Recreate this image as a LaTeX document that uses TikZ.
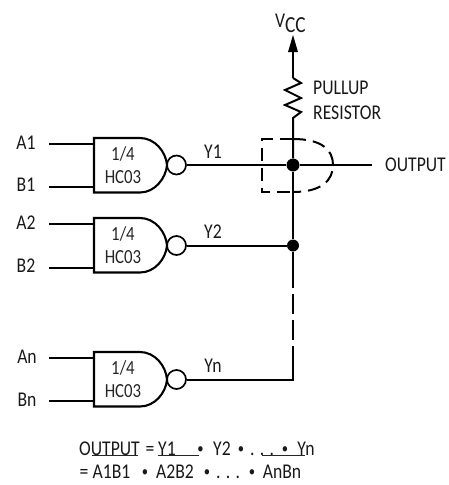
\documentclass[tikz,border=0pt]{standalone}
\usepackage{fontspec}
\setmainfont[FakeStretch=0.84]{Carlito}
\tikzset{
  wire/.style={line width=2pt,line cap=butt},
  gatebody/.style={line width=2.1pt,line join=miter},
  bubble/.style={circle,draw,line width=1.7pt,minimum size=19pt,inner sep=0pt},
  lab/.style={font=\fontsize{21}{23}\selectfont,inner sep=0pt,text=black!90},
  gatelab/.style={font=\fontsize{20}{23}\selectfont,inner sep=0pt,align=center,text=black!85},
  dot/.style={circle,fill=black,inner sep=0pt},
  dashbox/.style={line width=2pt,dash pattern=on 13pt off 7pt},
  blt/.style={font=\fontsize{15}{15}\selectfont,inner sep=0pt,text=black!90},
}
\begin{document}
\begin{tikzpicture}[x=1pt,y=-1pt]
\useasboundingbox (0,0) rectangle (448,485);
\foreach \n/\t/\c in {1/138/165,2/218/245.5,3/352/379.5}{
  \draw[gatebody] (94,\t) -- (140,\t) .. controls (155,\t) and (166,{\t+14}) .. (167,\c)
     .. controls (166,{\c+13}) and (155,{\t+54.5}) .. (140,{\t+54.5}) -- (94,{\t+54.5}) -- cycle;
  \node[bubble] (b\n) at (176.5,\c) {};
}
\node[gatelab] (g1) at (123,165.5) {1/4\\HC03};
\node[gatelab] (g2) at (123,245.5) {1/4\\HC03};
\node[gatelab] (g3) at (123,379.5) {1/4\\HC03};
\coordinate (a1) at (94,144); \coordinate (c1) at (94,187);
\coordinate (a2) at (94,224); \coordinate (c2) at (94,268);
\coordinate (a3) at (94,358); \coordinate (c3) at (94,401);
\coordinate (ia1) at (49,144); \coordinate (ic1) at (49,187);
\coordinate (ia2) at (49,224); \coordinate (ic2) at (49,268);
\coordinate (ia3) at (49,358); \coordinate (ic3) at (49,401);
\node[lab] (A1) at (26,143) {A1};
\node[lab] (B1) at (26,185) {B1};
\node[lab] (A2) at (26,223) {A2};
\node[lab] (B2) at (26,266) {B2};
\node[lab] (An) at (27,357) {An};
\node[lab] (Bn) at (27,400) {Bn};
\draw[wire] (ia1) -- (a1);
\draw[wire] (ic1) -- (c1);
\draw[wire] (ia2) -- (a2);
\draw[wire] (ic2) -- (c2);
\draw[wire] (ia3) -- (a3);
\draw[wire] (ic3) -- (c3);
\node[dot,minimum size=13pt] (j1) at (293,165) {};
\node[dot,minimum size=12pt] (j2) at (293,245.5) {};
\coordinate (j3) at (293,379.5);
\coordinate (out) at (372,165);
\draw[wire] (b1.east) -- (j1) -- (out);
\draw[wire] (b2.east) -- (j2);
\draw[wire,line join=miter] (b3.east) -- (j3) -- (293,346);
\draw[wire] (j1) -- (j2) -- (293,288);
\draw[wire] (293,294) -- (293,314);
\draw[wire] (293,320) -- (293,340);
\draw[dashbox] (293,139) -- (261.5,139) -- (261.5,192) -- (293,192);
\draw[dashbox] (293,139) .. controls (322,139) and (333,150) .. (333,165)
   .. controls (333,180) and (322,192) .. (293,192);
\coordinate (vcc) at (293,35);
\coordinate (r1) at (293,78);
\coordinate (r2) at (293,120);
\draw[wire] (r1) -- (293,50);
\fill (vcc) -- (298,52) -- (288,52) -- cycle;
\draw[wire,line join=miter] (r1) -- (301,83) -- (285,90) -- (301,98) -- (285,105) -- (301,112) -- (293,118) -- (r2) -- (j1);
\node[lab,anchor=west] (pu) at (313,88) {PULLUP};
\node[lab,anchor=west] (re) at (313,113) {RESISTOR};
\node[lab,anchor=west] (ot) at (385,165) {OUTPUT};
\node[lab,anchor=base west] (vv) at (275,27) {V};
\node[lab,anchor=base west,font=\fontsize{23}{23}\selectfont] (cc) at (285,32) {CC};
\node[lab] (y1) at (213,152) {Y1};
\node[lab] (y2) at (213,232) {Y2};
\node[lab] (yn) at (213,366) {Yn};
% equation, first line
\node[lab,anchor=base west] (e1) at (79,455) {OUTPUT};
\node[lab,anchor=base] (e2) at (150,455) {=};
\node[lab,anchor=base] (e3) at (167,455) {Y1};
\node[blt,anchor=base] (e4) at (200.5,453) {•};
\node[lab,anchor=base] (e5) at (222,455) {Y2};
\node[blt,anchor=base] (e6) at (241,453) {•};
\node[lab,anchor=base] (e7) at (262,455) {. . .};
\node[blt,anchor=base] (e8) at (285,453) {•};
\node[lab,anchor=base] (e9) at (306,455) {Yn};
\draw[line width=1pt,black!85] (92,455.5) -- (138,455.5);
\draw[line width=1pt,black!85] (158,455.5) -- (199,455.5);
\draw[line width=1pt,black!85] (262,455.5) -- (305,455.5);
% equation, second line
\node[lab,anchor=base] (f1) at (84,478) {=};
\node[lab,anchor=base] (f2) at (111.5,478) {A1B1};
\node[blt,anchor=base] (f3) at (145,476) {•};
\node[lab,anchor=base] (f4) at (175,478) {A2B2};
\node[blt,anchor=base] (f5) at (207,476) {•};
\node[lab,anchor=base] (f6) at (228,478) {. . .};
\node[blt,anchor=base] (f7) at (252,476) {•};
\node[lab,anchor=base] (f8) at (282,478) {AnBn};
\end{tikzpicture}
\end{document}
